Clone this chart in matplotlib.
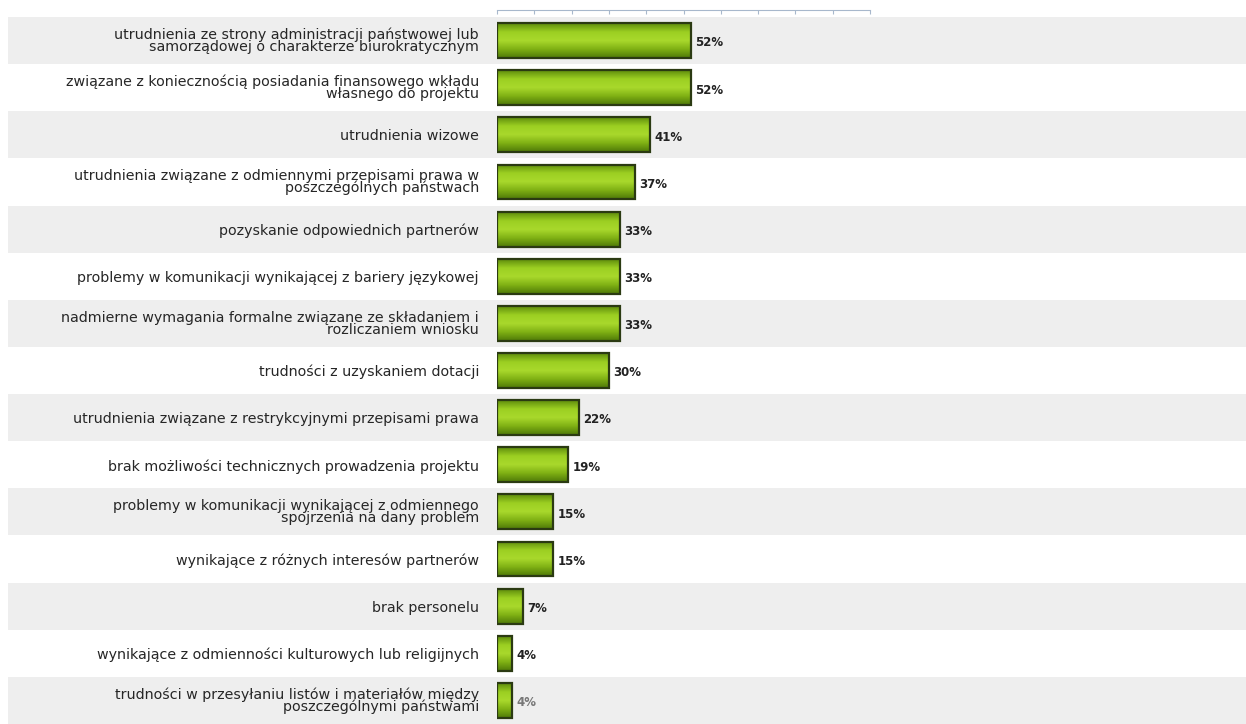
import matplotlib.pyplot as plt
import numpy as np
from matplotlib.transforms import blended_transform_factory
from matplotlib.colors import LinearSegmentedColormap

# Dane
categories = [
    "utrudnienia ze strony administracji państwowej lub\nsamorządowej o charakterze biurokratycznym",
    "związane z koniecznością posiadania finansowego wkładu\nwłasnego do projektu",
    "utrudnienia wizowe",
    "utrudnienia związane z odmiennymi przepisami prawa w\nposzczególnych państwach",
    "pozyskanie odpowiednich partnerów",
    "problemy w komunikacji wynikającej z bariery językowej",
    "nadmierne wymagania formalne związane ze składaniem i\nrozliczaniem wniosku",
    "trudności z uzyskaniem dotacji",
    "utrudnienia związane z restrykcyjnymi przepisami prawa",
    "brak możliwości technicznych prowadzenia projektu",
    "problemy w komunikacji wynikającej z odmiennego\nspojrzenia na dany problem",
    "wynikające z różnych interesów partnerów",
    "brak personelu",
    "wynikające z odmienności kulturowych lub religijnych",
    "trudności w przesyłaniu listów i materiałów między\nposzczególnymi państwami",
]
values = [52, 52, 41, 37, 33, 33, 33, 30, 22, 19, 15, 15, 7, 4, 4]
value_labels = [f"{v}%" for v in values]
x_ticks = list(range(0, 101, 10))

fig = plt.figure(figsize=(12.46, 7.24), dpi=100)
ax = fig.add_axes([497 / 1246, 0.0, 1 - 497 / 1246, 1 - 17 / 724])

# pasy w tle (co drugi wiersz szary)
trans = blended_transform_factory(fig.transFigure, ax.transData)
for i in range(len(values)):
    if i % 2 == 0:
        ax.add_patch(plt.Rectangle((8 / 1246, i - 0.5), 1, 1, transform=trans,
                                   facecolor="#eeeeee", edgecolor="none",
                                   clip_on=False, zorder=0))

# słupki z gradientem
cmap = LinearSegmentedColormap.from_list("g", ["#5f8d0c", "#9ccf22", "#a9d92c", "#7fb014", "#4f7a08"])
grad = np.linspace(0, 1, 64).reshape(-1, 1)
bars = ax.barh(range(len(values)), values, height=0.74, color="#8cc21a",
               edgecolor="#2b3a12", linewidth=1.6, zorder=2)
for b in bars:
    x0, y0 = b.get_x(), b.get_y()
    im = ax.imshow(grad, cmap=cmap, aspect="auto", zorder=2.5,
                   extent=(x0, x0 + b.get_width(), y0 + b.get_height(), y0))
    im.set_clip_path(b)
    b.set_facecolor("none")
    b.set_zorder(3)
ax.set_xlim(0, 749 / 3.73)
ax.set_ylim(len(values) - 0.5, -0.5)

# etykiety wartości
for i, (v, lab) in enumerate(zip(values, value_labels)):
    col = "#222222" if i < len(values) - 1 else "#777777"
    ax.text(v + 1.2, i + 0.05, lab, va="center", ha="left", fontsize=8.5,
            color=col, fontweight="bold", zorder=4)

# etykiety kategorii
ax.set_yticks(range(len(values)))
ax.set_yticklabels(categories, fontsize=10.3, color="#262626", linespacing=0.8)
ax.tick_params(axis="y", length=0, pad=19 - 0)
for t in ax.get_yticklabels():
    t.set_x(-0.0)
ax.tick_params(axis="y", pad=13)

# oś u góry
for s in ["left", "right", "bottom"]:
    ax.spines[s].set_visible(False)
ax.spines["top"].set_position(("outward", 5))
ax.spines["top"].set_bounds(0, 100)
ax.spines["top"].set_color("#a8b8cc")
ax.xaxis.set_ticks_position("top")
ax.set_xticks(x_ticks)
ax.set_xticklabels([])
ax.tick_params(axis="x", direction="in", length=3, color="#a8b8cc")
ax.set_facecolor("none")

fig.savefig("out.png", dpi=100)
